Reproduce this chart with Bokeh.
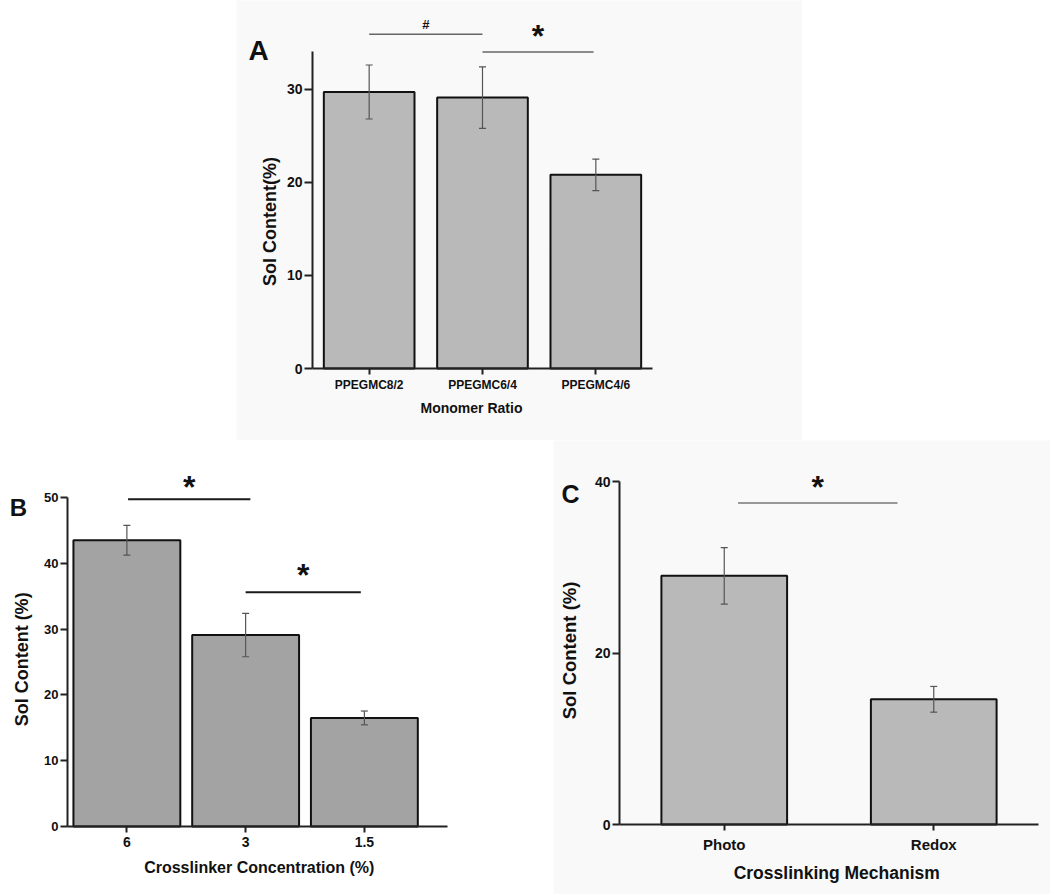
import math
from bokeh.plotting import figure
from bokeh.models import Range1d, Whisker, ColumnDataSource, TeeHead, FixedTicker, Spacer
from bokeh.layouts import column, row
from bokeh.embed import file_html
from bokeh.resources import INLINE
from bokeh.core.properties import value

FONT = "Liberation Sans"

# ---------------- data ----------------
a_categories = ["PPEGMC8/2", "PPEGMC6/4", "PPEGMC4/6"]
a_values = [29.7, 29.1, 20.8]
a_errors = [2.9, 3.3, 1.7]
# significance brackets: (x_start, x_end, line_y, text_y, text)
a_sig = [(0.5, 1.5, 35.9, 36.9, "#"), (1.5, 2.48, 34.0, 35.7, "*")]

b_categories = ["6", "3", "1.5"]
b_values = [43.5, 29.1, 16.5]
b_errors = [2.25, 3.3, 1.05]
b_sig = [(0.51, 1.54, 49.75, 51.6, "*"), (1.5, 2.47, 35.6, 38.2, "*")]

c_categories = ["Photo", "Redox"]
c_values = [29.0, 14.6]
c_errors = [3.3, 1.5]
c_sig = [(0.566, 1.327, 37.5, 39.4, "*")]


def make_panel(cats, vals, errs, sig, *, width, height, origin, scale,
               x_bound, y_bound, y_ticks, bar_width, fill, bg,
               letter, letter_xy, letter_size,
               xlabel, xlabel_xy, xlab_size, ylabel, ylabel_xy, ylab_size,
               xtick_size, ytick_size, sig_color, sig_width,
               ytick_out, xtick_standoff, hash_size="13px", star_size="32px"):
    ox, oy = origin
    kx, ky = scale
    p = figure(width=width, height=height,
               x_range=Range1d(-ox / kx, (width - ox) / kx),
               y_range=Range1d(-(height - oy) / ky, oy / ky),
               output_backend="svg", toolbar_location=None,
               min_border=0, min_border_left=0, min_border_right=0,
               min_border_top=0, min_border_bottom=0)
    p.background_fill_color = bg
    p.border_fill_color = bg
    p.outline_line_color = None
    p.grid.visible = False

    xs = [i + 0.5 for i in range(len(cats))]
    p.vbar(x=xs, top=vals, width=bar_width, bottom=0, fill_color=fill,
           line_color="#111111", line_width=2)

    src = ColumnDataSource(dict(x=xs,
                                upper=[v + e for v, e in zip(vals, errs)],
                                lower=[v - e for v, e in zip(vals, errs)]))
    w = Whisker(base="x", upper="upper", lower="lower", source=src,
                line_color="#555555", line_width=1.2, level="overlay",
                upper_head=TeeHead(size=7, line_color="#555555", line_width=1.2),
                lower_head=TeeHead(size=7, line_color="#555555", line_width=1.2))
    p.add_layout(w)

    for x0, x1, ly, ty, t in sig:
        p.segment(x0=[x0], y0=[ly], x1=[x1], y1=[ly], line_color=sig_color,
                  line_width=sig_width)
        p.text(x=[(x0 + x1) / 2], y=[ty], text=[t], text_align="center",
               text_baseline="alphabetic", text_font=value(FONT),
               text_font_style="bold", text_color="#111111",
               text_font_size=hash_size if t == "#" else star_size)

    # panel letter and axis titles
    common = dict(text_align="center", text_baseline="middle",
                  text_font=value(FONT), text_font_style="bold",
                  text_color="#111111")
    p.text(x=[letter_xy[0]], y=[letter_xy[1]], text=[letter],
           text_font_size=letter_size, **common)
    p.text(x=[xlabel_xy[0]], y=[xlabel_xy[1]], text=[xlabel],
           text_font_size=xlab_size, **common)
    p.text(x=[ylabel_xy[0]], y=[ylabel_xy[1]], text=[ylabel], angle=math.pi / 2,
           text_font_size=ylab_size, **common)

    # axes drawn at data 0
    p.xaxis.fixed_location = 0
    p.yaxis.fixed_location = 0
    p.xaxis.ticker = FixedTicker(ticks=xs)
    p.xaxis.major_label_overrides = {x: c for x, c in zip(xs, cats)}
    p.yaxis.ticker = FixedTicker(ticks=y_ticks)
    p.xaxis.bounds = (0, x_bound)
    p.yaxis.bounds = (0, y_bound)
    for ax in (p.xaxis[0], p.yaxis[0]):
        ax.axis_line_color = "#222222"
        ax.axis_line_width = 2
        ax.major_tick_line_color = "#222222"
        ax.major_tick_line_width = 2
        ax.major_tick_in = 0
        ax.minor_tick_line_color = None
        ax.major_label_text_font = FONT
        ax.major_label_text_font_style = "bold"
        ax.major_label_text_color = "#111111"
    p.xaxis.major_tick_out = 6
    p.yaxis.major_tick_out = ytick_out
    p.xaxis.major_label_standoff = xtick_standoff
    p.yaxis.major_label_standoff = 2
    p.xaxis.major_label_text_font_size = xtick_size
    p.yaxis.major_label_text_font_size = ytick_size
    return p


pa = make_panel(a_categories, a_values, a_errors, a_sig,
                width=566, height=440, origin=(76, 368), scale=(113.33, 9.31),
                x_bound=3.0, y_bound=34, y_ticks=[0, 10, 20, 30],
                bar_width=0.8, fill="#b9b9b9", bg="#f9f9f9",
                letter="A", letter_xy=(-0.476, 34.16), letter_size="28px",
                xlabel="Monomer Ratio", xlabel_xy=(1.403, -4.19), xlab_size="14px",
                ylabel="Sol Content(%)", ylabel_xy=(-0.379, 15.79), ylab_size="18px",
                xtick_size="12px", ytick_size="14px",
                sig_color="#666666", sig_width=1.5, ytick_out=8, xtick_standoff=3)

pb = make_panel(b_categories, b_values, b_errors, b_sig,
                width=553, height=454, origin=(67, 386), scale=(118.75, 6.58),
                x_bound=3.2, y_bound=50, y_ticks=[0, 10, 20, 30, 40, 50],
                bar_width=0.9, fill="#a3a3a3", bg="#ffffff",
                letter="B", letter_xy=(-0.413, 48.5), letter_size="24px",
                xlabel="Crosslinker Concentration (%)", xlabel_xy=(1.615, -6.19),
                xlab_size="16px",
                ylabel="Sol Content (%)", ylabel_xy=(-0.387, 25.4), ylab_size="18px",
                xtick_size="14px", ytick_size="13px",
                sig_color="#1a1a1a", sig_width=2, ytick_out=7, xtick_standoff=4)

pc = make_panel(c_categories, c_values, c_errors, c_sig,
                width=497, height=454, origin=(66, 384), scale=(209.5, 8.575),
                x_bound=2.0, y_bound=40, y_ticks=[0, 20, 40],
                bar_width=0.6, fill="#b9b9b9", bg="#f9f9f9",
                letter="C", letter_xy=(-0.234, 38.6), letter_size="25px",
                xlabel="Crosslinking Mechanism", xlabel_xy=(1.037, -5.63),
                xlab_size="17.5px",
                ylabel="Sol Content (%)", ylabel_xy=(-0.239, 20.3), ylab_size="18.5px",
                xtick_size="15px", ytick_size="14px",
                sig_color="#777777", sig_width=1.5, ytick_out=7, xtick_standoff=5)

layout = column(row(Spacer(width=236, height=440), pa), row(pb, pc))

open("out.html", "w").write(file_html(layout, INLINE))
